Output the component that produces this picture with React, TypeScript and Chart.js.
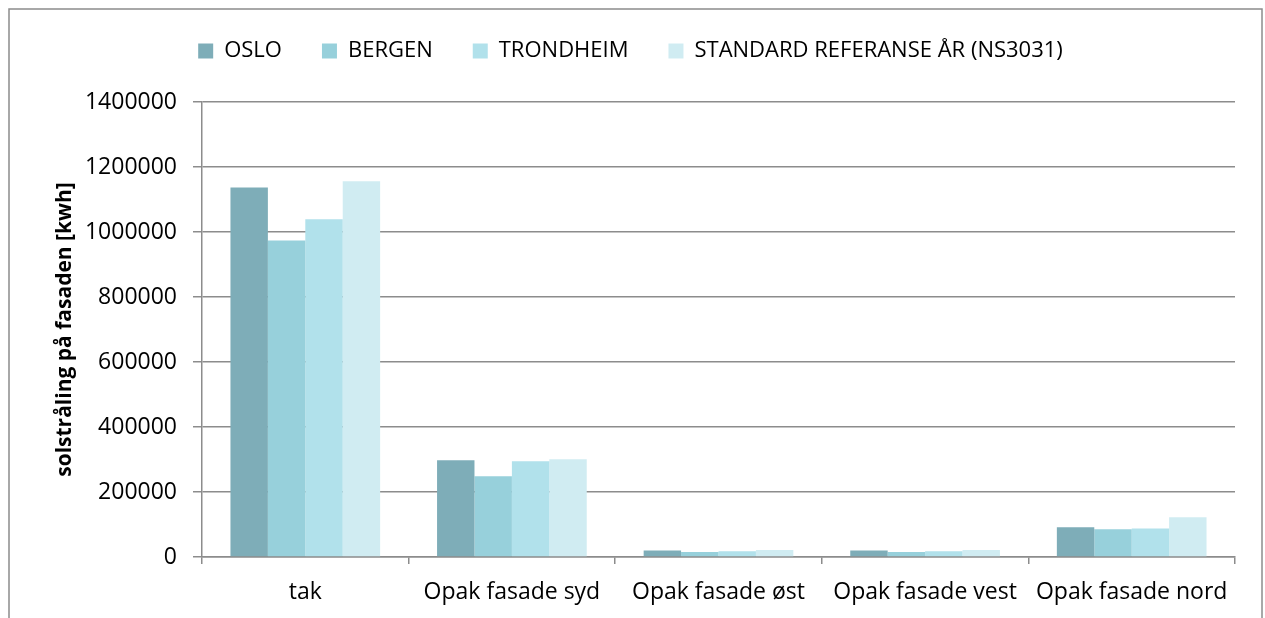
import React, { useEffect, useRef } from "react";
import { Chart, registerables } from "chart.js";

Chart.register(...registerables);

const categories = ["tak", "Opak fasade syd", "Opak fasade øst", "Opak fasade vest", "Opak fasade nord"];
const seriesNames = ["OSLO", "BERGEN", "TRONDHEIM", "STANDARD REFERANSE ÅR (NS3031)"];
const osloValues = [1137000, 297500, 19700, 19700, 91400];
const bergenValues = [973500, 248300, 15400, 15400, 85200];
const trondheimValues = [1039000, 294500, 17500, 17500, 87400];
const standardValues = [1156000, 300600, 21500, 21500, 122200];
const seriesColors = ["#7EADB8", "#97D0DB", "#B1E1EB", "#D0ECF2"];
const yTickValues = [0, 200000, 400000, 600000, 800000, 1000000, 1200000, 1400000];
const yTitle = "solstråling på fasaden [kwh]";

const GRID = "#8c8c8c";
const FONT = "'Open Sans', 'DejaVu Sans', sans-serif";

export default function App() {
  const canvasRef = useRef<HTMLCanvasElement | null>(null);

  useEffect(() => {
    if (!canvasRef.current) return;
    const seriesValues = [osloValues, bergenValues, trondheimValues, standardValues];

    const frame = {
      id: "frame",
      beforeDraw(chart: any) {
        const ctx = chart.ctx;
        ctx.save();
        ctx.fillStyle = "#ffffff";
        ctx.fillRect(0, 0, chart.width, chart.height);
        ctx.strokeStyle = GRID;
        ctx.lineWidth = 1.5;
        ctx.strokeRect(9, 9, 1253, 700);
        ctx.restore();
      },
    };

    const legendFit = {
      id: "legendFit",
      afterInit(chart: any) {
        const lg = chart.legend;
        if (lg) {
          const orig = lg.fit.bind(lg);
          lg.fit = () => {
            orig();
            lg.height = 102;
          };
        }
      },
      afterLayout(chart: any) {
        const lg = chart.legend;
        if (lg) {
          lg.left -= 24;
        }
      },
    };

    const chart = new Chart(canvasRef.current, {
      type: "bar",
      data: {
        labels: categories,
        datasets: seriesNames.map((name, i) => ({
          label: name,
          data: seriesValues[i],
          backgroundColor: seriesColors[i],
          borderColor: seriesColors[i],
          borderWidth: 0,
          categoryPercentage: 0.7245,
          barPercentage: 1,
        })),
      },
      options: {
        responsive: false,
        animation: false,
        devicePixelRatio: 1,
        layout: { padding: { left: 50, right: 30, top: 0, bottom: 0 } },
        font: { family: FONT },
        plugins: {
          legend: {
            position: "top",
            labels: {
              boxWidth: 15,
              boxHeight: 15,
              padding: 40,
              color: "#000",
              font: { size: 22, family: FONT },
            },
          },
          tooltip: { enabled: false },
        },
        scales: {
          x: {
            grid: {
              display: true,
              drawOnChartArea: false,
              drawTicks: true,
              tickLength: 7,
              color: GRID,
              lineWidth: 1.5,
              offset: true,
            },
            border: { display: true, color: GRID, width: 1.5 },
            ticks: {
              color: "#000",
              font: { size: 23, family: FONT },
              padding: 15,
              maxRotation: 0,
              autoSkip: false,
            },
            afterFit: (s: any) => {
              s.height = 61;
            },
          },
          y: {
            min: 0,
            max: 1400000,
            afterBuildTicks: (s: any) => {
              s.ticks = yTickValues.map((v) => ({ value: v }));
            },
            grid: { color: GRID, lineWidth: 1.5, tickLength: 9 },
            border: { display: true, color: GRID, width: 1.5 },
            ticks: {
              color: "#000",
              font: { size: 23, family: FONT },
              padding: 16,
              callback: (v: any) => String(v),
            },
            title: {
              display: true,
              text: yTitle,
              color: "#000",
              font: { size: 21, weight: "bold", family: FONT },
              padding: { top: 2, bottom: 0 },
            },
            afterFit: (s: any) => {
              s.width = 152;
            },
          },
        },
      } as any,
      plugins: [frame, legendFit],
    });

    return () => chart.destroy();
  }, []);

  return (
    <div style={{ position: "absolute", left: 0, top: 0, width: 1265, height: 618 }}>
      <canvas ref={canvasRef} width={1265} height={618} style={{ display: "block" }} />
    </div>
  );
}
